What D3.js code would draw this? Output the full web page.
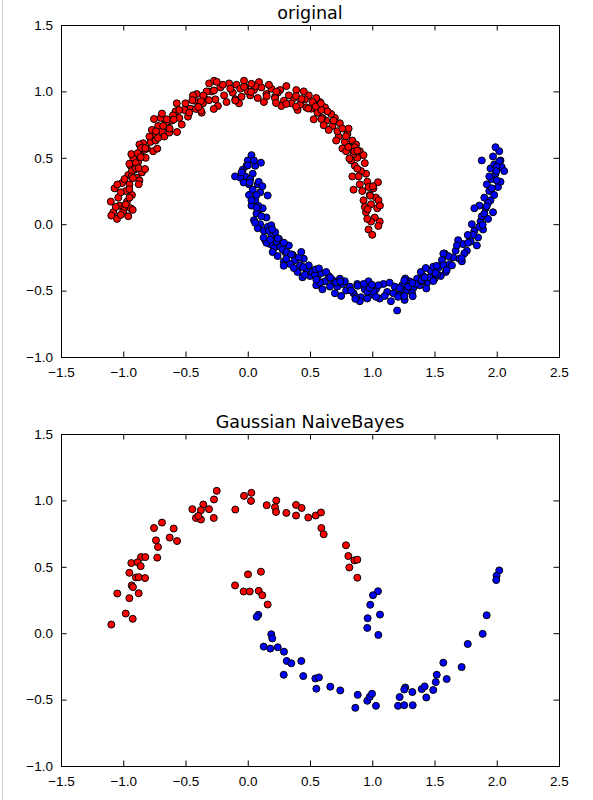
<!DOCTYPE html>
<meta charset="utf-8">
<style>

body {
  margin: 0;
  background: #fff;
}
svg {
  font-family: "DejaVu Sans", sans-serif;
}
.tick text {
  font-size: 13.5px;
  fill: #000;
}
.title {
  font-size: 17.5px;
  fill: #000;
}
.frame {
  fill: none;
  stroke: #000;
  stroke-width: 1;
}
.dot {
  stroke: #000;
  stroke-width: 1;
}

</style>
<body>
<script src="https://cdnjs.cloudflare.com/ajax/libs/d3/7.8.5/d3.min.js"></script>
<script>
var xTicks = [-1.5, -1.0, -0.5, 0.0, 0.5, 1.0, 1.5, 2.0, 2.5],
    xTickLabels = ["\u22121.5", "\u22121.0", "\u22120.5", "0.0", "0.5", "1.0", "1.5", "2.0", "2.5"],
    yTicks = [-1.0, -0.5, 0.0, 0.5, 1.0, 1.5],
    yTickLabels = ["\u22121.0", "\u22120.5", "0.0", "0.5", "1.0", "1.5"],
    titles = ["original", "Gaussian NaiveBayes"],
    classColors = ["#ff0000", "#0000ff"];

/* test points: [x, y, true class, predicted class] */
var testPoints = [
  [-0.249,1.072,0,0],[-0.271,1.007,0,0],[-0.445,0.934,0,0],[-0.357,0.969,0,0],[-0.376,0.926,0,0],
  [-0.311,0.934,0,0],[-0.416,0.868,0,0],[-0.376,0.856,0,0],[-0.397,0.883,0,0],[-0.273,0.868,0,0],
  [-0.100,0.931,0,0],[-0.030,1.034,0,0],[0.029,1.057,0,0],[0.026,0.996,0,0],[0.152,0.964,0,0],
  [0.229,0.999,0,0],[0.219,0.949,0,0],[0.227,0.913,0,0],[0.310,0.906,0,0],[-0.689,0.833,0,0],
  [-0.753,0.792,0,0],[-0.595,0.788,0,0],[-0.627,0.720,0,0],[-0.568,0.694,0,0],[-0.737,0.699,0,0],
  [-0.721,0.649,0,0],[-0.727,0.569,0,0],[-0.857,0.573,0,0],[-0.823,0.573,0,0],[-0.935,0.528,0,0],
  [-0.884,0.535,0,0],[-0.860,0.505,0,0],[-0.951,0.455,0,0],[-0.898,0.420,0,0],[-0.876,0.422,0,0],
  [-0.825,0.415,0,0],[-0.932,0.360,0,0],[-0.922,0.347,0,0],[-0.876,0.301,0,0],[-1.048,0.299,0,0],
  [-0.951,0.264,0,0],[-0.980,0.148,0,0],[-0.924,0.108,0,0],[-1.096,0.065,0,0],
  [0.002,0.443,1,0],[0.106,0.463,1,0],[-0.102,0.360,1,0],[-0.033,0.314,1,0],[0.016,0.314,1,0],
  [0.088,0.319,1,0],[0.117,0.286,1,0],[0.160,0.216,1,0],
  [0.388,0.966,0,0],[0.433,0.943,0,0],[0.388,0.886,0,0],[0.486,0.871,0,0],[0.546,0.886,0,0],
  [0.588,0.909,0,0],[0.591,0.792,0,0],[0.610,0.745,0,0],[0.789,0.662,0,0],[0.808,0.581,0,0],
  [0.856,0.548,0,0],[0.880,0.554,0,0],[0.816,0.495,0,0],[0.880,0.418,0,0],
  [0.085,0.138,1,1],[0.072,0.123,1,1],[0.189,-0.008,1,1],[0.197,-0.039,1,1],
  [1.046,0.316,0,1],[1.006,0.286,0,1],[0.984,0.214,0,1],[1.062,0.140,0,1],[0.963,0.113,0,1],
  [0.960,0.040,0,1],[1.049,-0.013,0,1],
  [0.128,-0.101,1,1],[0.181,-0.116,1,1],[0.241,-0.106,1,1],[0.291,-0.139,1,1],[0.313,-0.209,1,1],
  [0.350,-0.227,1,1],[0.430,-0.209,1,1],[0.289,-0.313,1,1],[0.446,-0.323,1,1],[0.543,-0.341,1,1],
  [0.572,-0.333,1,1],[0.551,-0.418,1,1],[0.663,-0.403,1,1],[0.743,-0.431,1,1],[0.883,-0.464,1,1],
  [0.864,-0.562,1,1],[0.960,-0.509,1,1],[0.980,-0.479,1,1],[0.998,-0.456,1,1],[1.030,-0.547,1,1],
  [1.207,-0.547,1,1],[1.220,-0.481,1,1],[1.257,-0.542,1,1],[1.325,-0.542,1,1],[1.265,-0.409,1,1],
  [1.257,-0.424,1,1],[1.322,-0.443,1,1],[1.397,-0.421,1,1],[1.421,-0.401,1,1],[1.434,-0.484,1,1],
  [1.490,-0.428,1,1],[1.510,-0.368,1,1],[1.518,-0.313,1,1],[1.598,-0.345,1,1],[1.571,-0.222,1,1],
  [1.718,-0.255,1,1],[1.767,-0.081,1,1],[1.887,-0.005,1,1],[1.919,0.135,1,1],[2.020,0.473,1,1],
  [1.999,0.433,1,1],[1.996,0.400,1,1]
];

/* remaining points of the upper moon (class 0) */
var trainRed = [
  [1.02,0.05],[0.97,-0.04],[1.04,0.12],[0.95,0.09],[1.00,-0.08],[0.99,0.15],[1.06,0.02],[0.93,0.18],
  [0.98,0.22],[1.01,0.27],[0.92,0.25],[0.96,0.32],[1.03,0.20],[0.90,0.30],[0.95,0.38],
  [0.91,0.40],[0.86,0.44],[0.94,0.46],[0.88,0.50],[0.83,0.48],[0.90,0.55],[0.85,0.53],
  [0.82,0.58],[0.78,0.62],[0.84,0.63],[0.76,0.57],[0.80,0.68],[0.73,0.66],[0.87,0.60],
  [0.72,0.70],[0.68,0.74],[0.74,0.76],[0.65,0.71],[0.70,0.80],[0.63,0.78],[0.67,0.83],
  [0.60,0.80],[0.56,0.84],[0.62,0.88],[0.53,0.79],[0.58,0.92],[0.51,0.87],[0.55,0.95],
  [0.47,0.88],[0.43,0.93],[0.49,0.97],[0.40,0.86],[0.45,1.00],[0.37,0.95],[0.42,0.90],
  [0.33,0.97],[0.29,0.93],[0.26,1.01],[0.31,1.04],[0.22,0.96],[0.19,1.02],[0.27,0.89],
  [0.15,0.98],[0.11,1.03],[0.08,0.95],[0.13,0.92],[0.05,1.01],[0.02,0.97],[0.09,1.07],
  [-0.02,1.03],[-0.05,0.96],[-0.09,1.05],[-0.12,0.99],[-0.07,0.91],[-0.15,1.06],[-0.03,1.08],
  [-0.19,0.97],[-0.22,1.03],[-0.26,0.94],[-0.29,1.00],[-0.24,0.89],[-0.31,1.06],[-0.17,0.92],
  [-0.35,0.95],[-0.39,0.89],[-0.43,0.93],[-0.37,0.84],[-0.46,0.87],[-0.41,0.98],[-0.48,0.81],
  [-0.51,0.86],[-0.55,0.80],[-0.58,0.85],[-0.53,0.75],[-0.61,0.78],[-0.57,0.91],[-0.64,0.73],
  [-0.66,0.76],[-0.69,0.70],[-0.72,0.74],[-0.67,0.66],[-0.75,0.68],[-0.70,0.80],[-0.63,0.69],
  [-0.78,0.62],[-0.81,0.57],[-0.76,0.55],[-0.84,0.61],[-0.79,0.66],[-0.86,0.52],[-0.82,0.50],
  [-0.88,0.47],[-0.91,0.41],[-0.85,0.39],[-0.94,0.44],[-0.89,0.35],[-0.96,0.37],[-0.92,0.50],
  [-0.95,0.30],[-0.98,0.25],[-1.01,0.31],[-0.93,0.22],[-1.04,0.20],[-0.97,0.17],[-1.07,0.27],
  [-1.00,0.10],[-1.03,0.14],[-0.96,0.06],[-1.08,0.09],[-1.05,0.04],[-0.99,0.13],[-1.10,0.17],
  [0.99,0.02],[1.05,0.18],[0.94,0.13],[0.97,0.28],[0.89,0.36],[0.93,0.52],[0.86,0.58],[0.79,0.55],
  [0.81,0.72],[0.76,0.72],[0.69,0.78],[0.64,0.85],[0.59,0.86],[0.52,0.92],[0.46,0.94],[0.39,1.01],
  [0.35,0.91],[0.24,0.99],[0.17,1.05],[0.06,1.04],[0.00,1.00],[-0.06,1.02],[-0.10,0.94],[-0.14,1.02],
  [-0.20,1.05],[-0.27,1.08],[-0.33,1.00],[-0.36,0.91],[-0.44,0.97],[-0.50,0.91],[-0.47,0.84],[-0.55,0.86],
  [-0.60,0.82],[-0.65,0.79],[-0.68,0.74],[-0.74,0.63],[-0.77,0.71],[-0.83,0.56],[-0.87,0.60],[-0.90,0.46],
  [-0.93,0.40],[-0.87,0.33],[-0.99,0.34],[-1.02,0.24],[-0.95,0.20],[-1.06,0.13],[-1.02,0.07],[-0.94,0.12],
  [0.71,0.63],[0.84,0.36],[0.85,0.26]
];

/* remaining points of the lower moon (class 1) */
var trainBlue = [
  [0.00,0.48],[-0.04,0.41],[0.03,0.52],[0.06,0.44],[-0.02,0.36],[0.04,0.38],[0.01,0.30],[-0.06,0.35],
  [0.04,0.26],[0.08,0.30],[0.01,0.22],[0.06,0.18],[0.10,0.24],[0.03,0.14],[0.09,0.11],
  [0.07,0.08],[0.12,0.12],[0.05,0.03],[0.10,0.00],[0.15,0.05],[0.08,-0.03],[0.13,-0.05],
  [0.16,-0.02],[0.19,-0.08],[0.14,-0.12],[0.22,-0.06],[0.18,-0.15],[0.25,-0.11],[0.21,-0.18],
  [0.26,-0.17],[0.30,-0.21],[0.24,-0.24],[0.33,-0.16],[0.29,-0.28],[0.36,-0.23],[0.34,-0.30],
  [0.38,-0.27],[0.42,-0.31],[0.40,-0.36],[0.45,-0.26],[0.47,-0.34],[0.50,-0.39],[0.44,-0.40],
  [0.52,-0.36],[0.56,-0.41],[0.59,-0.37],[0.55,-0.46],[0.62,-0.43],[0.65,-0.39],[0.60,-0.49],
  [0.68,-0.42],[0.72,-0.47],[0.70,-0.52],[0.76,-0.45],[0.79,-0.50],[0.74,-0.41],[0.82,-0.47],
  [0.85,-0.52],[0.88,-0.45],[0.91,-0.55],[0.94,-0.49],[0.97,-0.43],[0.90,-0.58],[0.99,-0.53],
  [1.03,-0.49],[1.06,-0.56],[1.09,-0.45],[1.12,-0.51],[1.15,-0.58],[1.18,-0.47],[1.20,-0.65],
  [1.21,-0.53],[1.24,-0.46],[1.27,-0.50],[1.30,-0.43],[1.26,-0.57],[1.33,-0.48],[1.36,-0.41],
  [1.38,-0.46],[1.41,-0.39],[1.44,-0.44],[1.47,-0.35],[1.43,-0.33],[1.50,-0.41],[1.39,-0.36],
  [1.53,-0.33],[1.56,-0.27],[1.59,-0.36],[1.62,-0.30],[1.58,-0.22],[1.65,-0.25],[1.55,-0.39],
  [1.67,-0.20],[1.70,-0.26],[1.73,-0.15],[1.69,-0.12],[1.76,-0.20],[1.78,-0.09],[1.72,-0.28],
  [1.79,-0.13],[1.82,-0.05],[1.85,-0.10],[1.80,0.00],[1.87,0.02],[1.84,-0.16],[1.89,-0.04],
  [1.88,0.06],[1.91,0.12],[1.86,0.14],[1.93,0.04],[1.95,0.18],[1.90,0.20],[1.97,0.09],
  [1.94,0.25],[1.98,0.22],[1.92,0.30],[2.01,0.28],[1.96,0.34],[2.03,0.32],[1.99,0.38],
  [2.00,0.45],[1.97,0.51],[2.04,0.43],[2.02,0.55],[1.95,0.42],[2.06,0.40],[1.99,0.58],
  [1.88,0.48],[1.82,0.12],
  [-0.01,0.44],[0.02,0.34],[0.05,0.48],[-0.05,0.39],[0.07,0.22],[0.03,0.18],[0.11,0.06],[0.06,0.01],
  [0.17,-0.05],[0.15,-0.14],[0.23,-0.13],[0.20,-0.21],[0.28,-0.19],[0.31,-0.26],[0.37,-0.33],[0.41,-0.25],
  [0.46,-0.38],[0.49,-0.31],[0.54,-0.38],[0.58,-0.44],[0.63,-0.36],[0.66,-0.47],[0.71,-0.44],[0.75,-0.54],
  [0.78,-0.43],[0.83,-0.50],[0.87,-0.55],[0.93,-0.45],[0.96,-0.56],[1.01,-0.51],[1.05,-0.46],[1.10,-0.54],
  [1.14,-0.44],[1.17,-0.52],[1.23,-0.49],[1.29,-0.47],[1.32,-0.52],[1.35,-0.45],[1.40,-0.43],[1.46,-0.40],
  [1.49,-0.32],[1.52,-0.38],[1.57,-0.31],[1.61,-0.24],[1.64,-0.31],[1.68,-0.16],[1.74,-0.22],[1.77,-0.14],
  [1.81,-0.08],[1.86,-0.02],[1.90,0.08],[1.93,0.16],[1.96,0.27],[2.00,0.33],[2.03,0.48],[1.98,0.45],
  [1.94,0.36]
];

var w = 593,
    h = 800,
    left = 61,
    right = 559,
    panelTops = [25, 434],
    panelH = 332,
    tickLen = 5.5;

var svg = d3.select("body").append("svg")
    .attr("width", w)
    .attr("height", h);

/* window edge line */
svg.append("line")
    .attr("x1", 2.5).attr("x2", 2.5)
    .attr("y1", 0).attr("y2", h)
    .attr("stroke", "#d4d4d4");

/* upper panel shows true classes of all points, lower one the predicted classes of the test points */
var allPoints = trainRed.map(function(d) { return [d[0], d[1], 0]; })
    .concat(trainBlue.map(function(d) { return [d[0], d[1], 1]; }))
    .concat(testPoints.map(function(d) { return [d[0], d[1], d[2]]; }));
var predPoints = testPoints.map(function(d) { return [d[0], d[1], d[3]]; });

drawPanel(panelTops[0], titles[0], allPoints);
drawPanel(panelTops[1], titles[1], predPoints);

function drawPanel(top, title, pts) {
  var x = d3.scaleLinear().domain([-1.5, 2.5]).range([left, right]),
      y = d3.scaleLinear().domain([-1.0, 1.5]).range([top + panelH, top]);

  var g = svg.append("g");

  g.selectAll("circle.dot")
      .data(pts)
    .enter().append("circle")
      .attr("class", "dot")
      .attr("cx", function(d) { return x(d[0]); })
      .attr("cy", function(d) { return y(d[1]); })
      .attr("r", 3.5)
      .attr("fill", function(d) { return classColors[d[2]]; });

  /* axes with inward ticks on every side */
  g.append("g")
      .attr("transform", "translate(0," + (top + panelH) + ")")
      .call(d3.axisBottom(x).tickValues(xTicks)
        .tickFormat(function(d, i) { return xTickLabels[i]; })
        .tickSizeInner(-tickLen).tickSizeOuter(0).tickPadding(10));
  g.append("g")
      .attr("transform", "translate(0," + top + ")")
      .call(d3.axisTop(x).tickValues(xTicks).tickFormat("")
        .tickSizeInner(-tickLen).tickSizeOuter(0));
  g.append("g")
      .attr("transform", "translate(" + left + ",0)")
      .call(d3.axisLeft(y).tickValues(yTicks)
        .tickFormat(function(d, i) { return yTickLabels[i]; })
        .tickSizeInner(-tickLen).tickSizeOuter(0).tickPadding(8));
  g.append("g")
      .attr("transform", "translate(" + right + ",0)")
      .call(d3.axisRight(y).tickValues(yTicks).tickFormat("")
        .tickSizeInner(-tickLen).tickSizeOuter(0));
  g.selectAll(".domain").remove();
  g.selectAll(".tick text").attr("font-family", null).attr("font-size", null);

  g.append("rect")
      .attr("class", "frame")
      .attr("x", left + 0.5)
      .attr("y", top + 0.5)
      .attr("width", right - left)
      .attr("height", panelH);

  g.append("text")
      .attr("class", "title")
      .attr("x", (left + right) / 2)
      .attr("y", top - 6)
      .attr("text-anchor", "middle")
      .text(title);
}
</script>
